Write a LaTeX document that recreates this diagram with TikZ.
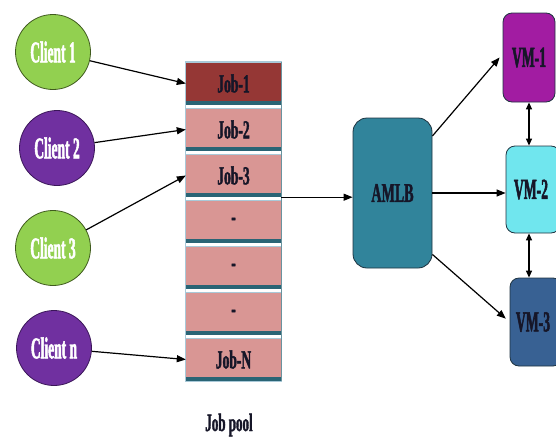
\documentclass[tikz,border=0pt]{standalone}
\usepackage{fontspec}
\usetikzlibrary{arrows.meta,calc}
% condensed heavy serif faces for the labels
\newfontfamily\narrowA{Liberation Serif Bold}[FakeStretch=0.45, FakeBold=1.6]
\newfontfamily\narrowB{Liberation Serif Bold}[FakeStretch=0.52, FakeBold=1.4]
\newfontfamily\narrowC{Liberation Serif Bold}[FakeStretch=0.47, FakeBold=1.6]

\definecolor{cgreen}{HTML}{92D050}
\definecolor{cgreenline}{HTML}{3F5A1E}
\definecolor{cpurple}{HTML}{7030A0}
\definecolor{cpurpleline}{HTML}{3A1658}
\definecolor{jobred}{HTML}{953735}
\definecolor{jobpink}{HTML}{D99694}
\definecolor{band}{HTML}{2A6475}
\definecolor{rimlight}{HTML}{A9C9D8}
\definecolor{amlbteal}{HTML}{31849B}
\definecolor{vmA}{HTML}{A21CA2}
\definecolor{vmB}{HTML}{70E6EE}
\definecolor{vmC}{HTML}{386193}
\definecolor{boxline}{HTML}{1E3340}
\definecolor{labeldark}{HTML}{161628}

\begin{document}
\begin{tikzpicture}[x=1pt,y=-1pt,
  client/.style={circle, minimum size=75pt, inner sep=0pt, line width=0.8pt,
    text=white, font=\narrowA\fontsize{30}{30}\selectfont},
  cell/.style={rectangle, minimum width=95pt, minimum height=43pt, inner sep=0pt,
    text=labeldark, font=\narrowB\fontsize{26}{26}\selectfont,
    path picture={
      \fill[band] (path picture bounding box.south west)
        rectangle ([yshift=4pt]path picture bounding box.south east);
      \draw[rimlight, line width=1.5pt] (path picture bounding box.north west)
        -- (path picture bounding box.north east);
    }},
  vmbox/.style={rectangle, rounded corners=9pt, draw=boxline, line width=0.8pt,
    inner sep=0pt, text=labeldark,
    font=\narrowC\fontsize{29}{29}\selectfont},
  arr/.style={draw=black, line width=1.2pt, -{Triangle[length=9pt,width=7pt]}},
  dbl/.style={draw=black, line width=1.2pt,
    {Triangle[length=7pt,width=6pt]}-{Triangle[length=7pt,width=6pt]}}
]
\useasboundingbox (0,0) rectangle (556,439);
\clip (0,0) rectangle (556,439);

% clients
\node[client, fill=cgreen, draw=cgreenline]   (c1) at (53,52)  {Client 1};
\node[client, fill=cpurple, draw=cpurpleline] (c2) at (57,148) {Client 2};
\node[client, fill=cgreen, draw=cgreenline]   (c3) at (53,248) {Client 3};
\node[client, fill=cpurple, draw=cpurpleline] (cn) at (54,348) {Client n};

% job pool stack
\node[cell, fill=jobred]  (j1) at (233.5,83.5)  {Job-1};
\node[cell, fill=jobpink] (j2) at (233.5,129.5) {Job-2};
\node[cell, fill=jobpink] (j3) at (233.5,175.5) {Job-3};
\node[cell, fill=jobpink] (j4) at (233.5,221.5) {-};
\node[cell, fill=jobpink] (j5) at (233.5,267.5) {-};
\node[cell, fill=jobpink] (j6) at (233.5,313.5) {-};
\node[cell, fill=jobpink] (jn) at (233.5,359.5) {Job-N};
\draw[rimlight, line width=0.8pt] (j1.north west) rectangle (jn.south east);
\draw[band!70, line width=1pt] (j1.north east) -- (jn.south east);

\node[font=\narrowB\fontsize{25}{25}\selectfont, text=labeldark]
  (pool) at (229,425) {Job pool};

% balancer and virtual machines
\node[vmbox, fill=amlbteal, rounded corners=14pt, minimum width=79pt,
  minimum height=150pt, font=\narrowB\fontsize{27}{27}\selectfont]
  (amlb) at (392.5,193) {AMLB};
\node[vmbox, fill=vmA, minimum width=52pt, minimum height=89pt]
  (vm1) at (529,57.5) {VM-1};
\node[vmbox, fill=vmB, minimum width=54pt, minimum height=87pt]
  (vm2) at (533,189.5) {\hspace*{-4pt}VM-2};
\node[vmbox, fill=vmC, minimum width=52pt, minimum height=88pt]
  (vm3) at (536,322) {\hspace*{-6pt}VM-3};

% connectors
\draw[arr] (c1) -- (j1.west);
\draw[arr] (c2) -- (j2.west);
\draw[arr] (c3) -- (j3.west);
\draw[arr] (cn) -- (jn.west);
\draw[arr] (j3.south east) -- (j3.south east -| amlb.west);
\draw[arr] (amlb.55) -- ([xshift=-3pt]vm1.west);
\draw[arr] (amlb.east) -- (amlb.east -| vm2.west);
\draw[arr, shorten >=5pt] (amlb.-57) -- (vm3.west);
\draw[dbl] (vm1.south) -- (vm1.south |- vm2.north);
\draw[dbl] (vm1.south |- vm2.south) -- (vm1.south |- vm3.north);
\end{tikzpicture}
\end{document}
